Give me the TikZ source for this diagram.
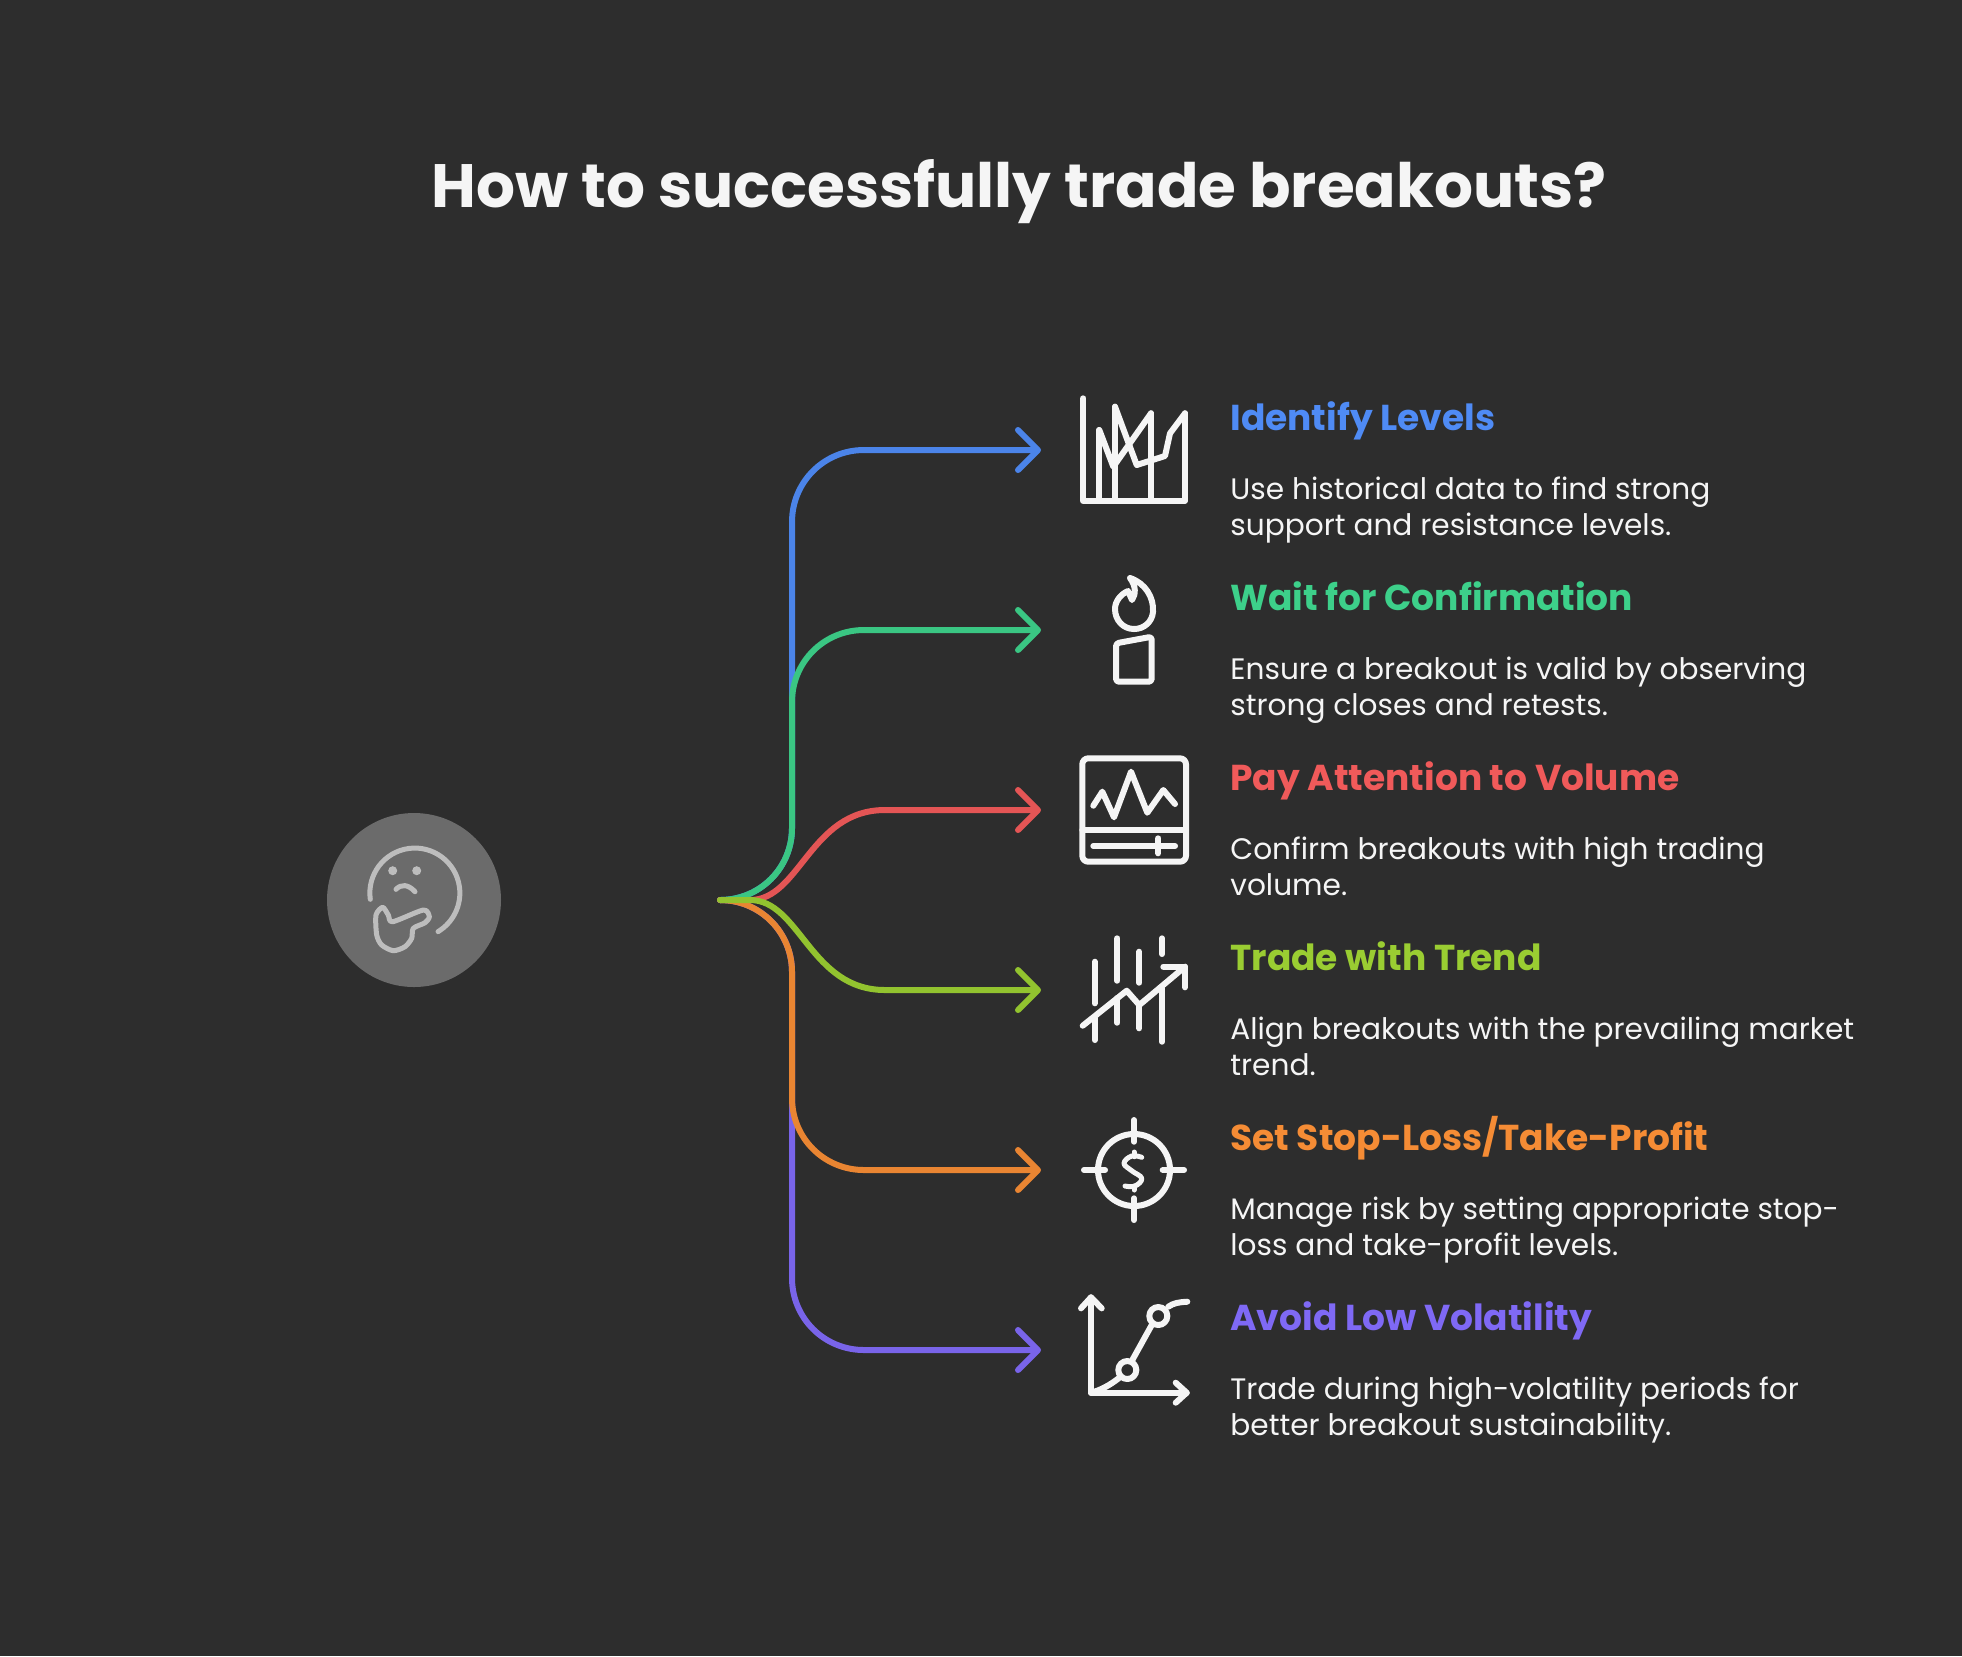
\documentclass[tikz,border=0pt]{standalone}
\usepackage{fontspec}
\setmainfont{Poppins}
\usetikzlibrary{arrows.meta,positioning}

\definecolor{bgdark}{HTML}{2D2D2D}
\definecolor{inkwhite}{HTML}{F5F5F5}
\definecolor{thinkgrey}{HTML}{BDBDBD}
\definecolor{circlegrey}{HTML}{6B6B6B}
\definecolor{itemblue}{HTML}{4F8BF5}
\definecolor{itemgreen}{HTML}{3DD08A}
\definecolor{itemred}{HTML}{F05A5A}
\definecolor{itemlime}{HTML}{9ACD32}
\definecolor{itemorange}{HTML}{F58C35}
\definecolor{itempurple}{HTML}{7F69F5}

\begin{document}
\begin{tikzpicture}[
	x=0.5pt, y=-0.5pt,
	node distance=19pt,
	link/.style={line width=3pt, line cap=round, -{Straight Barb[length=10pt,width=20pt,round]}},
	icon/.style={inkwhite, line width=3pt, line cap=round, line join=round},
	thinkline/.style={draw=thinkgrey, line width=2.5pt, line cap=round, line join=round},
	head/.style={anchor=base west, inner sep=0pt, text height=11pt, text depth=4pt, font=\fontsize{18}{22}\selectfont\bfseries},
	desc/.style={anchor=north west, inner sep=0pt, align=left, text=inkwhite, font=\fontsize{14.8}{18}\selectfont}
	]

	\fill[bgdark] (0,0) rectangle (1962,1656);
	\useasboundingbox (0,0) rectangle (1962,1656);

	% Nodes
	\node[text=inkwhite, font=\fontsize{30.6}{36}\selectfont\bfseries] (title) at (1019,192) {How to successfully trade breakouts?};
	\node[circle, fill=circlegrey, minimum size=87pt, inner sep=0pt] (thinker) at (414,900) {};

	\coordinate (src) at (720,900);
	\coordinate (tiplevels) at (1041,450);
	\coordinate (tipwait) at (1041,630);
	\coordinate (tipvolume) at (1041,810);
	\coordinate (tiptrend) at (1041,990);
	\coordinate (tipstop) at (1041,1170);
	\coordinate (tipavoid) at (1041,1350);

	\node[head, text=itemblue] (levelshead) at (1230,430) {Identify Levels};
	\node[desc, below=of levelshead.south west, anchor=north west] (levelstext) {Use historical data to find strong\\support and resistance levels.};
	\node[head, text=itemgreen] (waithead) at (1230,610) {Wait for Confirmation};
	\node[desc, below=of waithead.south west, anchor=north west] (waittext) {Ensure a breakout is valid by observing\\strong closes and retests.};
	\node[head, text=itemred] (volumehead) at (1230,790) {Pay Attention to Volume};
	\node[desc, below=of volumehead.south west, anchor=north west] (volumetext) {Confirm breakouts with high trading\\volume.};
	\node[head, text=itemlime] (trendhead) at (1230,970) {Trade with Trend};
	\node[desc, below=of trendhead.south west, anchor=north west] (trendtext) {Align breakouts with the prevailing market\\trend.};
	\node[head, text=itemorange] (stophead) at (1230,1150) {Set Stop-Loss/Take-Profit};
	\node[desc, below=of stophead.south west, anchor=north west] (stoptext) {Manage risk by setting appropriate stop-\\loss and take-profit levels.};
	\node[head, text=itempurple] (avoidhead) at (1230,1330) {Avoid Low Volatility};
	\node[desc, below=of avoidhead.south west, anchor=north west] (avoidtext) {Trade during high-volatility periods for\\better breakout sustainability.};

	% Connectors
	\draw[link, itemblue!95!black] (src) .. controls (760,900) and (792,868) .. (792,828) -- (792,522) .. controls (792,482) and (824,450) .. (864,450) -- (tiplevels);
	\draw[link, itemgreen!95!black] (src) .. controls (760,900) and (792,868) .. (792,828) -- (792,702) .. controls (792,662) and (824,630) .. (864,630) -- (tipwait);
	\draw[link, itemred!95!black] (src) -- (750,900) .. controls (800,900) and (810,810) .. (885,810) -- (tipvolume);
	\draw[link, itempurple!95!black] (src) .. controls (760,900) and (792,932) .. (792,972) -- (792,1278) .. controls (792,1318) and (824,1350) .. (864,1350) -- (tipavoid);
	\draw[link, itemorange!95!black] (src) .. controls (760,900) and (792,932) .. (792,972) -- (792,1098) .. controls (792,1138) and (824,1170) .. (864,1170) -- (tipstop);
	\draw[link, itemlime!95!black] (src) -- (750,900) .. controls (800,900) and (810,990) .. (885,990) -- (tiptrend);

	% Thinking face
	\draw[thinkline] (370.3,899.3) arc[start angle=172, end angle=419, radius=45];
	\fill[thinkgrey] (392.7,870.7) circle[radius=4.5] (416.7,870.7) circle[radius=4.5];
	\draw[thinkline] (396,889.3) .. controls (401,884) and (408,884) .. (415,891.7);
	\draw[thinkline] plot[smooth cycle, tension=0.45] coordinates {(376,915) (382.7,907.3) (388.3,915) (392.7,921.7) (423.3,910) (429.3,916.7) (425,922.7) (413.3,928.3) (411.7,938.3) (405,946.7) (393.3,950.7) (381.7,945) (376.7,935)};

	% Levels icon
	\draw[icon] (1083.3,398.3) -- (1083.3,500.7) -- (1185,500.7) -- (1185,413.3);
	\draw[icon] (1099.3,430) -- (1099.3,500.7) (1115,406.7) -- (1115,500.7) (1151,413.3) -- (1151,500.7);
	\draw[icon] (1099.3,430) -- (1113.3,466.7) -- (1151,413.3);
	\draw[icon] (1115,406.7) -- (1136.7,465) -- (1165,456) -- (1170,433.3) -- (1185,413.3);

	% Candle icon
	\draw[icon] (1130,578) .. controls (1145,583) and (1154,597) .. (1153,612) .. controls (1152,622) and (1144,629) .. (1134,629) .. controls (1123,629) and (1115,620) .. (1115,609) .. controls (1115,601) and (1121,594) .. (1128,591) -- (1132,600) .. controls (1136,594) and (1136,586) .. (1130,578) -- cycle;
	\draw[icon, rounded corners=1.5pt] (1116,643.3) -- (1151.7,636.7) -- (1151.7,681.7) -- (1116,681.7) -- cycle;

	% Volume icon
	\draw[icon, rounded corners=3pt] (1082.3,758.3) rectangle (1186,861.7);
	\draw[icon] (1082.3,830) -- (1186,830);
	\draw[icon] (1093.3,805.7) -- (1102.3,791.7) -- (1114,817.3) -- (1131,771.7) -- (1147.3,812.7) -- (1163.3,790) -- (1175,804);
	\draw[icon] (1093.3,846) -- (1175,846) (1158.3,838.3) -- (1158.3,853.3);

	% Trend icon
	\draw[icon] (1094.7,961.7) -- (1094.7,1003.3) (1094.7,1018) -- (1094.7,1040);
	\draw[icon] (1117.3,938.3) -- (1117.3,980.7) (1117.3,998) -- (1117.3,1022.7);
	\draw[icon] (1139.3,951.7) -- (1139.3,982.7) (1139.3,1005) -- (1139.3,1028.3);
	\draw[icon] (1162,938.3) -- (1162,954) (1162,988.3) -- (1162,1041.7);
	\draw[icon] (1082.7,1025.7) -- (1126.7,990.7) -- (1139.3,1005) -- (1185,966.7);
	\draw[icon] (1163.3,966.7) -- (1185,966.7) -- (1185,987.3);

	% Target icon
	\draw[icon] (1134,1170) circle[radius=36];
	\draw[icon] (1134,1120) -- (1134,1141.7) (1134,1198.3) -- (1134,1220) (1084,1170) -- (1105,1170) (1162.7,1170) -- (1184,1170);
	\draw[icon, line width=2.5pt] plot[smooth, tension=0.7] coordinates {(1141.7,1157.3) (1131.7,1156) (1124,1163.3) (1131.7,1170.7) (1141.7,1178.3) (1135,1186) (1125,1186)};
	\draw[icon, line width=2.5pt] (1134,1152) -- (1134,1156.7) (1134,1186) -- (1134,1190);

	% Volatility icon
	\draw[icon] (1091,1297.3) -- (1091,1392.7) -- (1186.7,1392.7);
	\draw[icon] (1081,1308.3) -- (1091,1297.3) -- (1101.7,1308.3);
	\draw[icon] (1175.7,1382.7) -- (1186.7,1392.7) -- (1175.7,1402.7);
	\draw[icon] (1091,1392.7) .. controls (1101,1390) and (1110,1385) .. (1119,1378);
	\draw[icon] (1127.3,1370) circle[radius=9] (1158.3,1316) circle[radius=9];
	\draw[icon] (1132.7,1359.3) -- (1151.7,1325);
	\draw[icon] (1168.3,1306.7) .. controls (1173,1303) and (1180,1302) .. (1187.3,1301.7);
\end{tikzpicture}
\end{document}
